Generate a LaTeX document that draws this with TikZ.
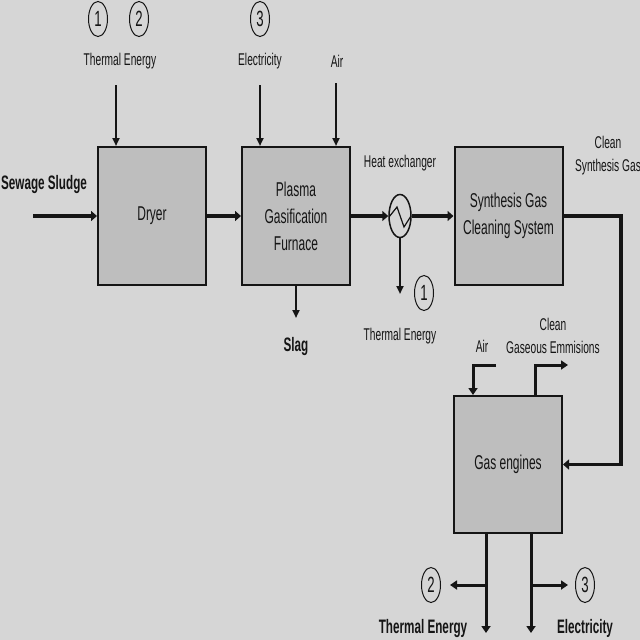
\documentclass[tikz,border=0pt]{standalone}
\usepackage{fontspec}
\setmainfont{Liberation Sans}[FakeStretch=0.6]
\usetikzlibrary{arrows.meta,shapes.geometric}
\definecolor{bg}{HTML}{D6D6D6}
\definecolor{boxfill}{HTML}{BEBEBE}
\definecolor{ink}{HTML}{151515}
\begin{document}
\begin{tikzpicture}[x=1pt,y=-1pt,
  proc/.style={draw=ink, line width=2pt, fill=boxfill, minimum width=108pt, minimum height=138pt,
    inner sep=0pt, align=center, text=ink, font=\fontsize{20}{27}\selectfont},
  lbl/.style={font=\fontsize{17}{23}\selectfont, text=ink, align=center, inner sep=0pt},
  blbl/.style={font=\fontsize{19.5}{23}\selectfont\bfseries, text=ink, align=center, inner sep=0pt},
  num/.style={ellipse, draw=ink, line width=1pt, minimum width=19pt, minimum height=35pt,
    inner sep=0pt, text=ink, font=\fontsize{22}{22}\selectfont},
  hxs/.style={ellipse, draw=ink, line width=1.5pt, minimum width=22pt, minimum height=43pt, inner sep=0pt},
  mainflow/.style={draw=ink, line width=3.5pt, -{Triangle[length=6pt,width=10pt]}},
  thinflow/.style={draw=ink, line width=2pt, -{Triangle[length=8pt,width=7pt]}},
  medflow/.style={draw=ink, line width=3pt, -{Triangle[length=7pt,width=9pt]}},
  medline/.style={draw=ink, line width=3pt}]
\useasboundingbox (0,0) rectangle (640,640);
\fill[bg] (0,0) rectangle (640,640);

% process boxes
\node[proc] (dryer) at (152,216) {Dryer};
\node[proc] (plasma) at (296,216) {Plasma\\Gasification\\Furnace};
\node[proc] (syn) at (508.5,216) {Synthesis Gas\\Cleaning System};
\node[proc, minimum height=137pt] (gas) at (508,464.5) {Gas engines};

% heat exchanger
\node[hxs] (hx) at (400,216) {};
\draw[ink, line width=1.2pt] (389,217) -- (397,207) -- (404,227) -- (411,216);

% top labels
\node[num] (n1a) at (98,19) {1};
\node[num] (n2a) at (139,19) {2};
\node[num] (n3a) at (260,19) {3};
\node[lbl] (teTop) at (120,61) {Thermal Energy};
\node[lbl] (elTop) at (260,61) {Electricity};
\node[lbl] (airTop) at (337,61) {Air};

\coordinate (teIn) at (116,85);
\coordinate (elIn) at (260,85);
\coordinate (airIn) at (336,83);
\draw[thinflow] (teIn) -- (teIn |- dryer.north);
\draw[thinflow] (elIn) -- (elIn |- plasma.north);
\draw[thinflow] (airIn) -- (airIn |- plasma.north);

% sewage sludge
\node[blbl] (sludge) at (44,184) {Sewage Sludge};
\coordinate (sludgeIn) at (33,216);
\draw[mainflow] (sludgeIn) -- (dryer.west);
\draw[mainflow] (dryer.east) -- (plasma.west);
\draw[mainflow] (plasma.east) -- (hx.west);
\draw[mainflow] (hx.east) -- (syn.west);

% heat exchanger output
\node[lbl] (hxlbl) at (400,163) {Heat exchanger};
\coordinate (hxOut) at (400,294);
\draw[thinflow] (hx.south) -- (hxOut);
\node[num] (n1b) at (424,293) {1};
\node[lbl] (teMid) at (400,336) {Thermal Energy};

% slag
\coordinate (slagOut) at (296,318);
\draw[thinflow] (plasma.south) -- (slagOut);
\node[blbl] (slag) at (296,346) {Slag};

% clean synthesis gas loop
\node[lbl] (csg) at (608,156) {Clean\\Synthesis Gas};
\coordinate (loopA) at (621,216);
\coordinate (loopB) at (621,464.5);
\draw[mainflow] (syn.east) -- (loopA) -- (loopB) -- (gas.east);

% air into gas engines
\node[lbl] (airEng) at (482,346) {Air};
\coordinate (airStart) at (496,365);
\coordinate (airTurn) at (473,365);
\draw[medflow] (airStart) -- (airTurn) -- (airTurn |- gas.north);

% clean gaseous emissions
\node[lbl] (cge) at (553,336) {Clean\\Gaseous Emmisions};
\coordinate (emBase) at (535,396);
\coordinate (emTurn) at (535,365);
\coordinate (emOut) at (568,365);
\draw[medflow] (emBase) -- (emTurn) -- (emOut);

% bottom outputs
\coordinate (teDown) at (486,633);
\coordinate (elDown) at (531,633);
\draw[medflow] (teDown |- gas.south) -- (teDown);
\draw[medflow] (elDown |- gas.south) -- (elDown);
\coordinate (teBr) at (486,585);
\coordinate (teBrOut) at (450,585);
\coordinate (elBr) at (531,585);
\coordinate (elBrOut) at (568,585);
\draw[medflow] (teBr) -- (teBrOut);
\draw[medflow] (elBr) -- (elBrOut);
\node[num] (n2b) at (431,585) {2};
\node[num] (n3b) at (585,585) {3};
\node[blbl] (teBot) at (423,628) {Thermal Energy};
\node[blbl] (elBot) at (585,628) {Electricity};
\end{tikzpicture}
\end{document}
